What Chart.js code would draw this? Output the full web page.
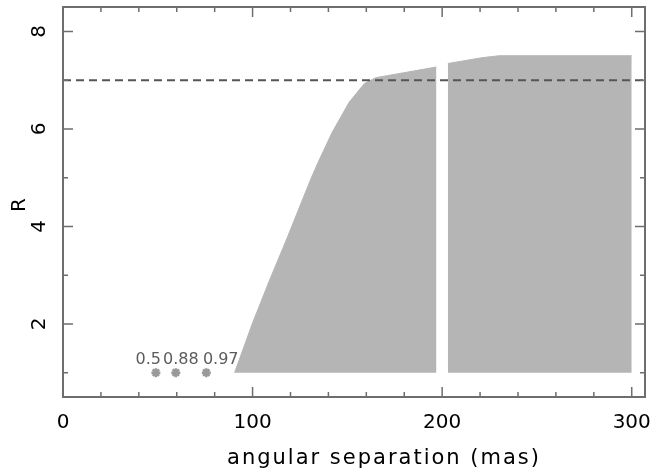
<!DOCTYPE html>
<html>
<head>
<meta charset="utf-8">
<script src="https://cdn.jsdelivr.net/npm/chart.js@4/dist/chart.umd.min.js"></script>
<style>
  html, body { margin: 0; padding: 0; background: #fff; }
  #wrap { width: 652px; height: 473px; }
</style>
</head>
<body>
<div id="wrap"><canvas id="c"></canvas></div>
<script>
// --- data ---
// left shaded region (R vs angular separation, mas)
const leftSep = [90.5, 100, 109, 118, 125, 131, 135, 142, 151, 159, 165, 197];
const leftR   = [1.0, 2.02, 2.9, 3.74, 4.42, 5.0, 5.35, 5.93, 6.55, 6.93, 7.05, 7.27];
// right shaded region
const rightSep = [203, 221, 230, 300];
const rightR   = [7.34, 7.46, 7.5, 7.5];
// dashed threshold
const limitSep = [0, 307];
const limitR   = [7, 7];
// asterisks with their labels
const starSep    = [49, 59.5, 75.6];
const starR      = [1, 1, 1];
const starLabels = ['0.5', '0.88', '0.97'];
const labelSep   = [45.0, 62.2, 83.2];

const xTicks = [0, 100, 200, 300];
const yTicks = [2, 4, 6, 8];

const FILL_COLOR  = '#b5b5b5';
const FRAME_COLOR = '#6e6e6e';
const FONT = "'DejaVu Sans', sans-serif";

const pts = (xs, ys) => xs.map((x, i) => ({ x, y: ys[i] }));

// frame, inward ticks, labels
const framePlugin = {
  id: 'frame',
  afterDraw(chart) {
    const { ctx, chartArea: a, scales: { x, y } } = chart;
    ctx.save();
    ctx.strokeStyle = FRAME_COLOR;
    ctx.lineWidth = 2;
    ctx.strokeRect(a.left, a.top, a.right - a.left, a.bottom - a.top);

    ctx.lineWidth = 1.5;
    ctx.beginPath();
    for (let v = 0; v <= 300; v += 20) {
      const px = x.getPixelForValue(v);
      const len = v % 100 === 0 ? 10 : 5;
      ctx.moveTo(px, a.bottom); ctx.lineTo(px, a.bottom - len);
      ctx.moveTo(px, a.top);    ctx.lineTo(px, a.top + len);
    }
    for (let v = 1; v <= 8; v += 1) {
      const py = y.getPixelForValue(v);
      const len = v % 2 === 0 ? 10 : 5;
      ctx.moveTo(a.left, py);  ctx.lineTo(a.left + len, py);
      ctx.moveTo(a.right, py); ctx.lineTo(a.right - len, py);
    }
    ctx.stroke();

    // x tick labels
    ctx.fillStyle = '#000';
    ctx.font = `20px ${FONT}`;
    ctx.textAlign = 'center';
    ctx.textBaseline = 'alphabetic';
    xTicks.forEach(v => ctx.fillText(String(v), x.getPixelForValue(v), a.bottom + 31));

    // y tick labels, rotated
    yTicks.forEach(v => {
      ctx.save();
      ctx.translate(a.left - 23, y.getPixelForValue(v));
      ctx.rotate(-Math.PI / 2);
      ctx.textBaseline = 'middle';
      ctx.fillText(String(v), 0, 0);
      ctx.restore();
    });

    // axis titles
    ctx.save();
    ctx.font = `21px ${FONT}`;
    ctx.letterSpacing = '2px';
    ctx.fillText('angular separation (mas)', (a.left + a.right) / 2 + 30, a.bottom + 67);
    ctx.restore();

    ctx.save();
    ctx.translate(a.left - 43, (a.top + a.bottom) / 2 + 3);
    ctx.rotate(-Math.PI / 2);
    ctx.font = `20px ${FONT}`;
    ctx.textBaseline = 'middle';
    ctx.fillText('R', 0, 0);
    ctx.restore();

    // asterisk labels
    ctx.fillStyle = '#5c5c5c';
    ctx.font = `16px ${FONT}`;
    starLabels.forEach((t, i) => {
      ctx.fillText(t, x.getPixelForValue(labelSep[i]), y.getPixelForValue(starR[i]) - 9);
    });
    ctx.restore();
  },
};

new Chart(document.getElementById('c'), {
  type: 'line',
  data: {
    datasets: [
      {
        data: pts(limitSep, limitR),
        borderColor: '#555',
        borderWidth: 2,
        borderDash: [8, 5],
        pointRadius: 0,
        fill: false,
        order: 0,
      },
      {
        type: 'scatter',
        data: pts(starSep, starR),
        pointStyle: 'star',
        pointRadius: 4.5,
        borderColor: '#999',
        backgroundColor: '#999',
        borderWidth: 2.5,
        order: 1,
      },
      {
        data: pts(leftSep, leftR),
        borderColor: FILL_COLOR,
        backgroundColor: FILL_COLOR,
        borderWidth: 1,
        pointRadius: 0,
        fill: { value: 1 },
        order: 2,
      },
      {
        data: pts(rightSep, rightR),
        borderColor: FILL_COLOR,
        backgroundColor: FILL_COLOR,
        borderWidth: 1,
        pointRadius: 0,
        fill: { value: 1 },
        order: 2,
      },
    ],
  },
  options: {
    responsive: true,
    maintainAspectRatio: false,
    animation: false,
    layout: { padding: { left: 63, right: 5, top: 5, bottom: 76 } },
    plugins: { legend: { display: false }, tooltip: { enabled: false } },
    scales: {
      x: { type: 'linear', min: 0, max: 307, display: false },
      y: { type: 'linear', min: 0.5, max: 8.5, display: false },
    },
  },
  plugins: [framePlugin],
});
</script>
</body>
</html>
